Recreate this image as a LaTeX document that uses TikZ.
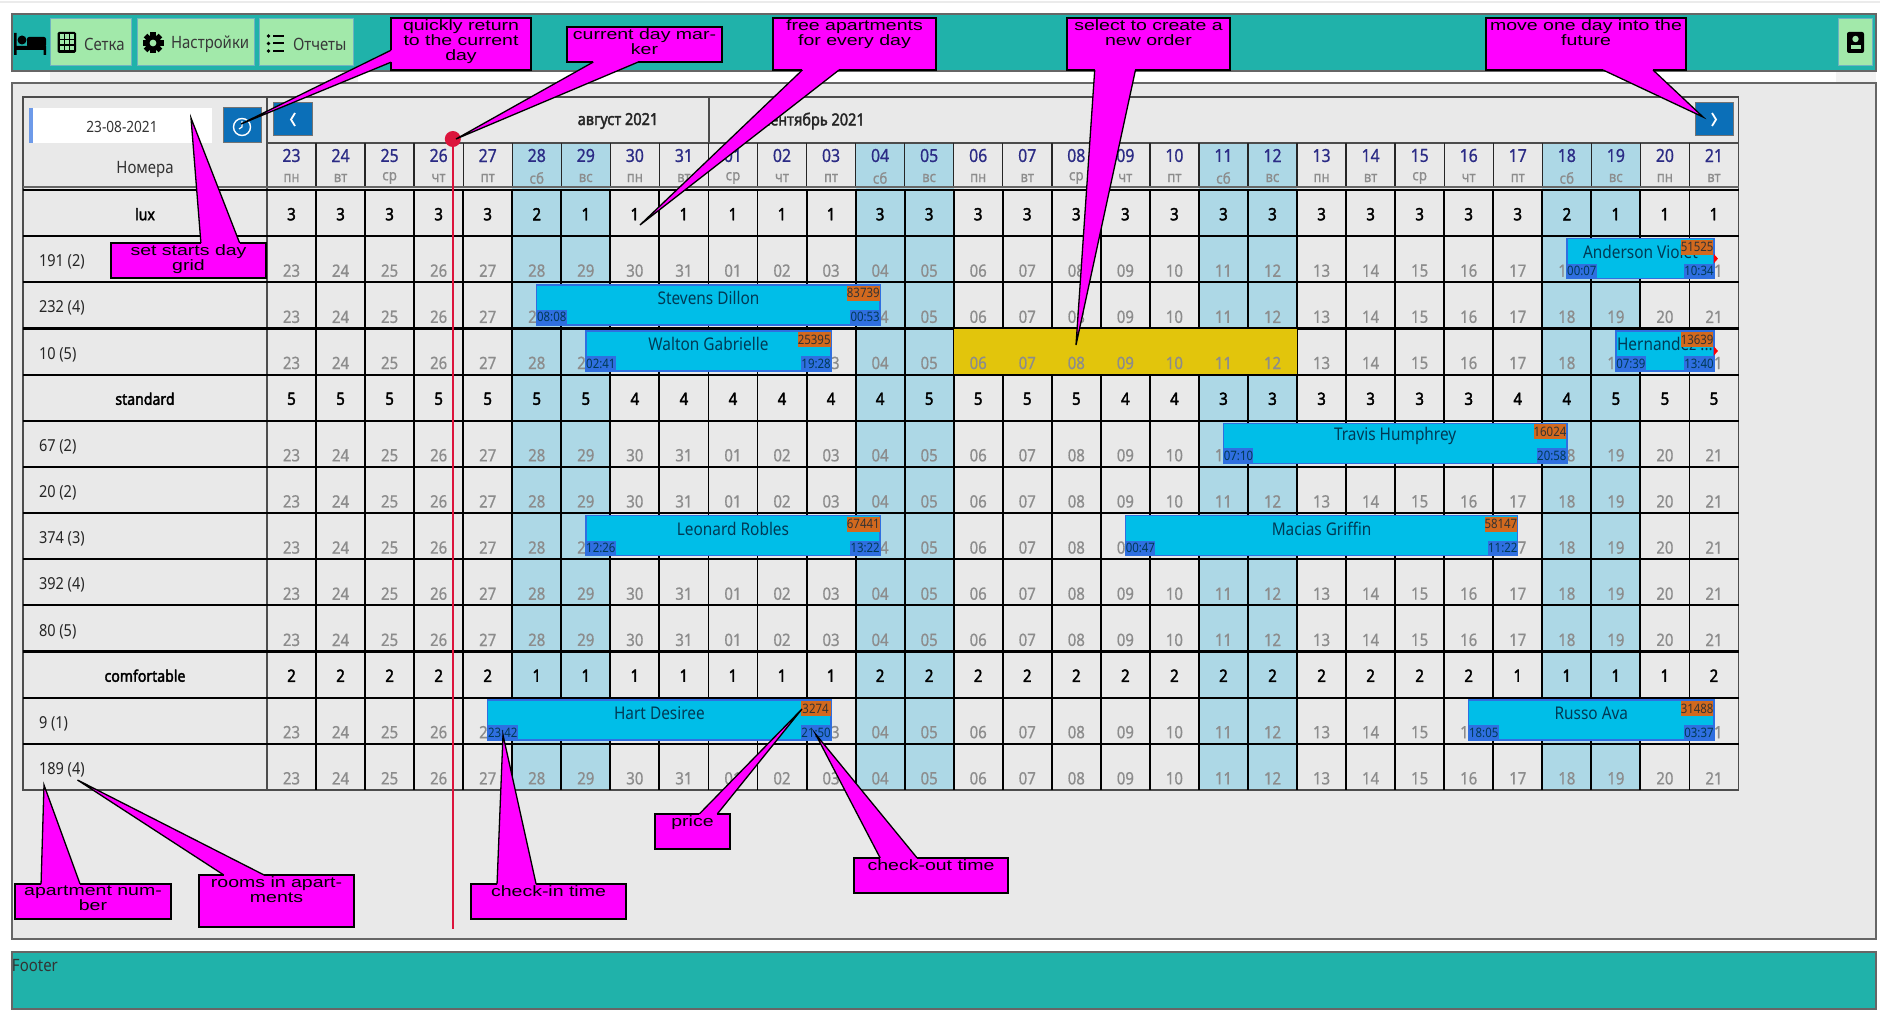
\documentclass[tikz,border=0pt]{standalone}
\usepackage{fontspec}
\setmainfont[FakeStretch=0.88]{Noto Sans}
\newfontfamily\boldfont[FakeStretch=0.88,FakeBold=2.2]{Noto Sans}
\newfontfamily\midfont[FakeStretch=0.88,FakeBold=0.7]{Noto Sans}
\newfontfamily\callfont[FakeStretch=1.3]{Liberation Sans}
\usetikzlibrary{calc}
\definecolor{barteal}{HTML}{20B2AA}
\definecolor{panelgray}{HTML}{E9E9E9}
\definecolor{btngreen}{HTML}{A2E9AA}
\definecolor{btnblue}{HTML}{0B6FB8}
\definecolor{weekend}{HTML}{ADD8E6}
\definecolor{freeyellow}{HTML}{E2C50C}
\definecolor{daynavy}{HTML}{2B2B85}
\definecolor{bookfill}{HTML}{00BEE8}
\definecolor{bookline}{HTML}{2F6FE0}
\definecolor{guestink}{HTML}{003A55}
\definecolor{pricetag}{HTML}{D2691E}
\definecolor{markred}{HTML}{DC143C}
\definecolor{callmag}{HTML}{FF00FF}
\newcommand{\fs}[1]{\fontsize{#1}{#1}\selectfont}
\tikzset{
  every node/.style={inner sep=0pt,outer sep=0pt},
  menubtn/.style={fill=btngreen,draw=bookline!45!btngreen,line width=1pt,anchor=north west,minimum height=47pt},
  menutxt/.style={font=\fs{17},text=black!78,anchor=west},
  navbtn/.style={fill=btnblue,draw=black!55,line width=1pt,anchor=north west},
  daynum/.style={font=\midfont\fs{18},text=daynavy},
  daywk/.style={font=\midfont\fs{15},text=black!45},
  dategray/.style={font=\midfont\fs{17},text=black!45},
  freenum/.style={font=\boldfont\fs{17},text=black},
  roomtxt/.style={font=\fs{16.5},text=black!85,anchor=west},
  booking/.style={fill=bookfill,draw=bookline,line width=1.4pt,anchor=north west,minimum height=40pt},
  guesttxt/.style={font=\fs{17.5},text=guestink},
  timetag/.style={fill=bookline,text=guestink,font=\fs{13},minimum width=30pt,minimum height=15pt},
  pricelab/.style={fill=pricetag,text=black!80,font=\fs{13},minimum width=30pt,minimum height=15pt},
  callbox/.style={fill=callmag,draw=black,line width=1.4pt,anchor=north west},
  callside/.style={draw=black,line width=1.3pt,line join=miter},
}
\begin{document}
\begin{tikzpicture}[x=1pt,y=-1pt]
    \useasboundingbox (0,0) rectangle (1890,1030);
    \fill[white] (0,0) rectangle (1890,1030);
    \draw[black!8,line width=2pt] (0,2)--(1880,2);
    % shadow under the buttons
    \fill[black!6] (50,71) rectangle (358,83);
    \fill[black!5] (1836,71) rectangle (1876,83);
    % top bar, panel, footer
    \node[fill=barteal,draw=black!60,line width=1.2pt,anchor=north west,minimum width=1864pt,minimum height=57pt] (topbar) at (12,14) {};
    \node[fill=panelgray,draw=black!60,line width=1.2pt,anchor=north west,minimum width=1864pt,minimum height=856pt] (panel) at (12,83) {};
    \node[fill=barteal,draw=black!60,line width=1.2pt,anchor=north west,minimum width=1864pt,minimum height=57pt] (footer) at (12,952) {};
    \node[font=\fs{17},text=black!80,anchor=west] (footertxt) at (12,966) {Footer};
    % bed
    \fill[black] (14,33) rectangle (16.5,55) (14,46) rectangle (46,50) (43.5,46) rectangle (46,55);
    \fill[black,rounded corners=2pt] (27,37) rectangle (46,47);
    \fill[black] (22,40) circle[radius=4.5];
    % menu
    \node[menubtn,minimum width=81pt] (gridbtn) at (50,19) {};
    \node[menubtn,minimum width=117pt] (setbtn) at (137,19) {};
    \node[menubtn,minimum width=94pt] (repbtn) at (259,19) {};
    \node[menutxt] (gridtxt) at (84,44.5) {Сетка};
    \node[menutxt] (settxt) at (171,44.5) {Настройки};
    \node[menutxt] (reptxt) at (293,44.5) {Отчеты};
    \fill[black,rounded corners=1.5pt] (57.5,32) rectangle (76,53);
    \foreach \i in {0,1,2} \foreach \j in {0,1,2}
      {\fill[btngreen] (60+\i*5.2,34.5+\j*5.8) rectangle ++(3.6,4.2);}
    \fill[black] (153,43) circle[radius=8];
    \foreach \a in {0,45,...,315} {\fill[black,rotate around={\a:(153,43)}] (150.4,32.5) rectangle (155.6,38);}
    \fill[btngreen] (153,43) circle[radius=3.4];
    \foreach \y in {36,43.5,51} {
      \fill[black] (268.5,\y) circle[radius=1.8];
      \draw[black,line width=2pt] (273,\y)--(284,\y);
    }
    \node[menubtn,minimum width=34pt] (userbtn) at (1838,19) {};
    \fill[black,rounded corners=2pt] (1847,32) rectangle (1864,53);
    \fill[btngreen] (1855.5,39) circle[radius=3.2];
    \fill[btngreen] (1850.5,49) rectangle (1860.5,45.5);
    % weekend columns and grid lines
    \foreach \ci in {5,6,12,13,19,20,26,27}
      {\fill[weekend] (267+49.05*\ci,143) rectangle (267+49.05*\ci+49.05,790);}
    \draw[black!70,line width=1.4pt] (23,97) rectangle (1738.5,790);
    \draw[black!70,line width=1.4pt] (267,97)--(267,790) (267,143)--(1738.5,143) (709,97)--(709,143);
    \foreach \ci in {1,...,29} {
      \draw[black!85,line width=1.4pt] (267+49.05*\ci,143)--(267+49.05*\ci,187);
      \draw[black,line width=1.9pt] (267+49.05*\ci,190)--(267+49.05*\ci,790);
    }
    \draw[black!60,line width=1.4pt] (23,187)--(1738.5,187);
    \foreach \ri in {0,...,12}
      {\draw[black,line width=2.2pt] (23,190+46.15*\ri)--(1738.5,190+46.15*\ri);}
    % free for a new order
    \node[fill=freeyellow,anchor=north west,minimum width=343.4pt,minimum height=45pt] (neworder) at (267+49.05*14,329.2) {};
    % head of the table
    \node[fill=white,anchor=north west,minimum width=183pt,minimum height=35pt] (dateinput) at (29,108) {};
    \fill[bookline!70!white] (29,108) rectangle (33,143);
    \node[font=\fs{15.5},text=black!80] (datetxt) at (122,127) {23-08-2021};
    \node[navbtn,minimum width=38pt,minimum height=35pt] (todaybtn) at (223,108) {};
    \draw[white,line width=1.4pt] (242,127) circle[radius=8.5];
    \draw[white,line width=1.2pt] (242,121)--(242,127)--(239,129);
    \node[navbtn,minimum width=39pt,minimum height=33pt] (prevbtn) at (273,103) {};
    \node[navbtn,minimum width=38pt,minimum height=33pt] (nextbtn) at (1695,103) {};
    \draw[white,line width=1.8pt] (295,113)--(291,119.5)--(295,126);
    \draw[white,line width=1.8pt] (1712,113)--(1716,119.5)--(1712,126);
    \node[font=\boldfont\fs{16.5},text=black!85] (augtxt) at (618,121) {август 2021};
    \node[font=\boldfont\fs{16.5},text=black!85] (septxt) at (814,121) {сентябрь 2021};
    \node[font=\fs{17},text=black!80] (roomshead) at (145,169) {Номера};
    \def\days{23/пн,24/вт,25/ср,26/чт,27/пт,28/сб,29/вс,30/пн,31/вт,01/ср,02/чт,03/пт,04/сб,05/вс,06/пн,07/вт,08/ср,09/чт,10/пт,11/сб,12/вс,13/пн,14/вт,15/ср,16/чт,17/пт,18/сб,19/вс,20/пн,21/вт}
    \foreach \dd/\wk [count=\ci from 0] in \days {
      \node[daynum] (day\ci) at (267+49.05*\ci+24.5,155.5) {\dd};
      \node[daywk] (wk\ci) at (267+49.05*\ci+24.5,178) {\wk};
    }
    % number of free apartments
    \foreach \ri/\nm/\vals in {
      0/lux/{3,3,3,3,3,2,1,1,1,1,1,1,3,3,3,3,3,3,3,3,3,3,3,3,3,3,2,1,1,1},
      4/standard/{5,5,5,5,5,5,5,4,4,4,4,4,4,5,5,5,5,4,4,3,3,3,3,3,3,4,4,5,5,5},
      10/comfortable/{2,2,2,2,2,1,1,1,1,1,1,1,2,2,2,2,2,2,2,2,2,2,2,2,2,1,1,1,1,2}} {
      \node[font=\boldfont\fs{16},text=black] (type\ri) at (145,190+46.15*\ri+24.2) {\nm};
      \foreach \v [count=\ci from 0] in \vals
        {\node[freenum] (free\ri-\ci) at (267+49.05*\ci+24.5,190+46.15*\ri+24.2) {\v};}
    }
    % rooms
    \foreach \ri/\lab in {1/{191 (2)},2/{232 (4)},3/{10 (5)},5/{67 (2)},6/{20 (2)},7/{374 (3)},8/{392 (4)},9/{80 (5)},11/{9 (1)},12/{189 (4)}} {
      \node[roomtxt] (room\ri) at (39,190+46.15*\ri+26) {\lab};
      \foreach \dd/\wk [count=\ci from 0] in \days
        {\node[dategray] (date\ri-\ci) at (267+49.05*\ci+24.5,190+46.15*\ri+34.5) {\dd};}
    }
    % bookings
    \foreach \b/\ri/\from/\len/\guest/\price/\tin/\tout in {
      anderson/1/26.5/3/Anderson Violet/51525/00:07/10:34,
      stevens/2/5.5/7/Stevens Dillon/83739/08:08/00:53,
      walton/3/6.5/5/Walton Gabrielle/25395/02:41/19:28,
      hernandez/3/27.5/2/{Hernandez {.}{.}{.}}/13639/07:39/13:40,
      travis/5/19.5/7/Travis Humphrey/16024/07:10/20:58,
      leonard/7/6.5/6/Leonard Robles/67441/12:26/13:22,
      macias/7/17.5/8/Macias Griffin/58147/00:47/11:22,
      hart/11/4.5/7/Hart Desiree/3274/23:42/21:50,
      russo/11/24.5/5/Russo Ava/31488/18:05/03:37} {
      \node[booking,minimum width=49.05pt*\len] (\b) at (267+49.05*\from,190+46.15*\ri+2.5) {};
      \node[guesttxt,anchor=center] (\b txt) at ($(\b.north)+(0,13)$) {\guest};
      \node[pricelab,anchor=north east] (\b price) at ($(\b.north east)+(-.5,1)$) {\price};
      \node[timetag,anchor=south west] (\b in) at (\b.south west) {\tin};
      \node[timetag,anchor=south east] (\b out) at (\b.south east) {\tout};
    }
    \foreach \b in {anderson,hernandez}
      {\fill[red] (\b.east) ++(0,-4.5) -- ++(4,4.5) -- ++(-4,4.5) -- cycle;}
    % current day
    \draw[markred,line width=2pt] (452.8,139)--(452.8,929);
    \node[circle,fill=markred,minimum size=16pt] (daymark) at (452.8,139) {};
    % callouts
    \foreach \nm/\x/\y/\w/\h/\txt/\ca/\cb/\fa/\fb/\tx/\ty in {
      quickbox/391/18/140/52/{quickly return\\to the current\\day}/south west/north west/.15/.38/241/124,
      markbox/567/27/155/35/{current day mar-\\ker}/south west/south east/.17/.46/456/139,
      freebox/773/18/163/52/{free apartments\\for every day}/south west/south east/.18/.405/640/225,
      orderbox/1067/18/163/52/{select to create a\\new order}/south west/south east/.17/.42/1076/345,
      nextbox/1486/18/200/52/{move one day into the\\future}/south west/south east/.585/.835/1703/117,
      startbox/111/243/155/35/{set starts day\\grid}/north west/north east/.58/.83/191/118,
      numbox/15/884/156/35/{apartment num-\\ber}/north west/north east/.167/.417/44/785,
      roomsbox/199/875/155/52/{rooms in apart-\\ments}/north west/north east/.16/.42/77.5/780,
      inbox/471/884/155/35/{check-in time}/north west/north east/.168/.42/503/735,
      pricebox/655/814/75/35/{price}/north west/north east/.59/.83/802/709,
      outbox/854/858/154/35/{check-out time}/north west/north east/.17/.41/815.5/734} {
      \node[callbox,text=black] (\nm) at (\x,\y) {\parbox[c][\h pt][t]{\w pt}{\centering\callfont\fs{15}\lineskiplimit=-20pt\baselineskip=15pt\vspace*{2pt}\txt\par}};
      \coordinate (\nm a) at ($(\nm.\ca)!\fa!(\nm.\cb)$);
      \coordinate (\nm b) at ($(\nm.\ca)!\fb!(\nm.\cb)$);
      \coordinate (\nm tip) at (\tx,\ty);
      \fill[callmag] (\nm a)--(\nm tip)--(\nm b)--cycle;
      \draw[callmag,line width=2.2pt] (\nm a)--(\nm b);
      \draw[callside] (\nm a)--(\nm tip)--(\nm b);
    }
\end{tikzpicture}
\end{document}
